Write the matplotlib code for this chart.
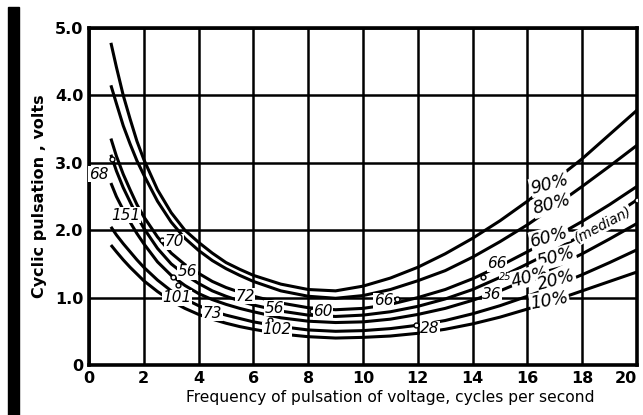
import numpy as np
import matplotlib
matplotlib.use("Agg")
import matplotlib.pyplot as plt
from matplotlib.patches import Rectangle

# frequency, cycles per second
freq = [0.8, 1, 1.25, 1.5, 1.75, 2, 2.5, 3, 3.5, 4, 4.5, 5, 5.5, 6, 7, 8, 9, 10, 11, 12, 13, 14, 15, 16, 17, 18, 19, 20]

# cyclic pulsation, volts
p90 = [4.78, 4.42, 4.0, 3.65, 3.32, 3.05, 2.6, 2.26, 2.0, 1.82, 1.66, 1.52, 1.42, 1.33, 1.2, 1.12, 1.1, 1.17, 1.29, 1.45, 1.65, 1.88, 2.14, 2.43, 2.74, 3.06, 3.42, 3.78]
p80 = [4.15, 3.88, 3.55, 3.28, 3.03, 2.82, 2.43, 2.12, 1.88, 1.7, 1.55, 1.43, 1.33, 1.24, 1.1, 1.02, 0.99, 1.03, 1.12, 1.25, 1.4, 1.6, 1.83, 2.08, 2.36, 2.65, 2.95, 3.26]
p60 = [3.36, 3.1, 2.83, 2.6, 2.38, 2.2, 1.9, 1.66, 1.49, 1.36, 1.24, 1.15, 1.08, 1.02, 0.92, 0.85, 0.82, 0.84, 0.9, 1.0, 1.12, 1.28, 1.47, 1.68, 1.9, 2.13, 2.38, 2.65]
p50 = [3.12, 2.88, 2.63, 2.42, 2.21, 2.03, 1.73, 1.5, 1.34, 1.21, 1.1, 1.02, 0.95, 0.89, 0.8, 0.74, 0.72, 0.74, 0.79, 0.87, 0.98, 1.12, 1.3, 1.5, 1.7, 1.93, 2.18, 2.45]
p40 = [2.7, 2.5, 2.3, 2.12, 1.95, 1.8, 1.53, 1.33, 1.18, 1.06, 0.97, 0.9, 0.84, 0.79, 0.7, 0.65, 0.63, 0.64, 0.68, 0.75, 0.84, 0.96, 1.1, 1.27, 1.45, 1.65, 1.87, 2.1]
p20 = [2.05, 1.93, 1.8, 1.68, 1.56, 1.45, 1.26, 1.1, 0.98, 0.88, 0.8, 0.74, 0.69, 0.64, 0.57, 0.52, 0.5, 0.51, 0.54, 0.59, 0.66, 0.76, 0.88, 1.02, 1.17, 1.34, 1.52, 1.71]
p10 = [1.78, 1.68, 1.56, 1.45, 1.35, 1.25, 1.09, 0.95, 0.84, 0.75, 0.68, 0.62, 0.57, 0.53, 0.46, 0.42, 0.4, 0.41, 0.43, 0.47, 0.53, 0.61, 0.71, 0.83, 0.96, 1.1, 1.24, 1.38]

curves = [p90, p80, p60, p50, p40, p20, p10]

# percent labels: text, x, y, rotation
pct_text = ["90%", "80%", "60%", "50%", "(median)", "40%", "20%", "10%"]
pct_x = [16.8, 16.9, 16.8, 17.05, 18.75, 16.1, 17.05, 16.8]
pct_y = [2.69, 2.38, 1.9, 1.6, 2.08, 1.31, 1.26, 0.96]
pct_rot = [15, 15, 15, 15, 28, 15, 15, 10]

# number of observers noted along the curves
obs_text = ["68", "151", "70", "56", "101", "72", "73", "56", "60", "102", "66", "28", "66", "36", "25"]
obs_x = [0.35, 1.35, 3.1, 3.6, 3.2, 5.7, 4.5, 6.75, 8.55, 6.85, 10.75, 12.45, 14.9, 14.7, 15.2]
obs_y = [2.83, 2.22, 1.83, 1.38, 1.0, 1.02, 0.77, 0.84, 0.79, 0.52, 0.95, 0.54, 1.5, 1.04, 1.3]

# small circles marking observations
circ_x = [0.85, 1.7, 2.65, 3.08, 3.26, 6.6, 8.15, 11.25, 11.95, 14.38, 15.4, 20.0]
circ_y = [3.05, 2.2, 1.85, 1.3, 1.19, 0.67, 0.8, 0.98, 0.59, 1.31, 1.32, 2.45]

fig = plt.figure(figsize=(6.43, 4.15), dpi=100)
fig.patches.append(Rectangle((8 / 643, 0), 11 / 643, 408 / 415, transform=fig.transFigure,
                             color="black", zorder=0))
ax = fig.add_axes([89 / 643, 50 / 415, 548 / 643, 337 / 415])

for c in curves:
    ax.plot(freq, c, color="black", lw=2.2, solid_capstyle="butt", zorder=3)

ax.plot(circ_x, circ_y, "o", ms=3.5, mfc="white", mec="black", mew=1, zorder=5)

for t, x, y, r in zip(pct_text, pct_x, pct_y, pct_rot):
    fs = 10 if t == "(median)" else 12.5
    ax.text(x, y, t, fontsize=fs, style="italic", rotation=r, ha="center", va="center",
            bbox=dict(facecolor="white", edgecolor="none", pad=0.5), zorder=6)

for t, x, y in zip(obs_text, obs_x, obs_y):
    fs = 7 if t == "25" else 11
    ax.text(x, y, t, fontsize=fs, style="italic", ha="center", va="center",
            bbox=dict(facecolor="white", edgecolor="none", pad=0.3), zorder=6)

ax.set_xlim(0, 20)
ax.set_ylim(0, 5)
ax.set_xticks(range(0, 21, 2))
ax.set_yticks([0, 1, 2, 3, 4, 5])
ax.set_yticklabels(["0", "1.0", "2.0", "3.0", "4.0", "5.0"])
ax.tick_params(length=0, labelsize=11.5, pad=4)
for lab in ax.get_xticklabels() + ax.get_yticklabels():
    lab.set_fontweight("bold")
ax.get_xticklabels()[-1].set_horizontalalignment("right")
ax.grid(True, color="black", lw=1.8)
for s in ax.spines.values():
    s.set_linewidth(2.6)
ax.set_axisbelow(True)

ax.set_xlabel("Frequency of pulsation of voltage, cycles per second", fontsize=11.2, labelpad=0)
ax.xaxis.set_label_coords(0.55, -0.075)
ax.set_ylabel("Cyclic pulsation , volts", fontsize=11.5, fontweight="bold", labelpad=6)

fig.savefig("out.png", dpi=100)
